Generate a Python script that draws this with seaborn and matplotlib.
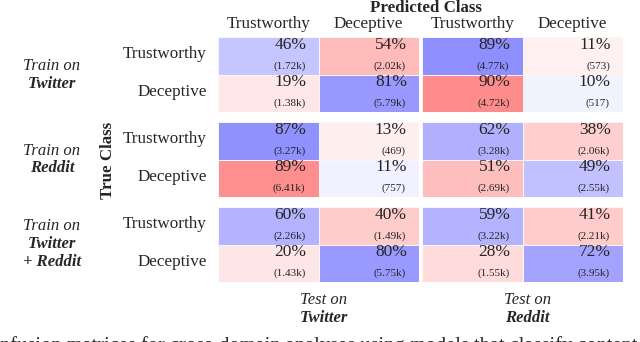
import numpy as np
import matplotlib
matplotlib.use('Agg')
import matplotlib.pyplot as plt
from matplotlib.colors import LinearSegmentedColormap
import seaborn as sns

# row labels (train sets) and column labels (test sets)
train_names = ['Twitter', 'Reddit', 'Twitter\n+ Reddit']
test_names = ['Twitter', 'Reddit']
class_names = ['Trustworthy', 'Deceptive']

# percentages [true][pred] per (train, test)
pct_tw_tw = [[46, 54], [19, 81]]
pct_tw_rd = [[89, 11], [90, 10]]
pct_rd_tw = [[87, 13], [89, 11]]
pct_rd_rd = [[62, 38], [51, 49]]
pct_bo_tw = [[60, 40], [20, 80]]
pct_bo_rd = [[59, 41], [28, 72]]

# raw counts [true][pred] per (train, test)
cnt_tw_tw = [[1720, 2020], [1380, 5790]]
cnt_tw_rd = [[4770, 573], [4720, 517]]
cnt_rd_tw = [[3270, 469], [6410, 757]]
cnt_rd_rd = [[3280, 2060], [2690, 2550]]
cnt_bo_tw = [[2260, 1490], [1430, 5750]]
cnt_bo_rd = [[3220, 2210], [1550, 3950]]

pcts = [[pct_tw_tw, pct_tw_rd], [pct_rd_tw, pct_rd_rd], [pct_bo_tw, pct_bo_rd]]
cnts = [[cnt_tw_tw, cnt_tw_rd], [cnt_rd_tw, cnt_rd_rd], [cnt_bo_tw, cnt_bo_rd]]

sns.set_style('white')
plt.rcParams['font.family'] = ['Liberation Serif', 'DejaVu Serif']

# red for wrong, blue for correct, lighter as the share goes down
cmap = LinearSegmentedColormap.from_list('rwb', [(1, 0.5, 0.5), (1, 1, 1), (0.5, 0.5, 1)])

W, H = 640, 342
fig = plt.figure(figsize=(W / 100, H / 100), dpi=100)


def fx(px):
    return px / W


def fy(py):
    return 1 - py / H


def fmt_count(n):
    return f'({n / 1000:.2f}k)' if n >= 1000 else f'({n})'


col_left = [218, 422]
row_top = [37, 122, 207]
cw, ch = 201, 75

for r in range(3):
    for c in range(2):
        p = np.array(pcts[r][c], dtype=float)
        sign = np.array([[1, -1], [-1, 1]])
        ax = fig.add_axes([fx(col_left[c]), fy(row_top[r] + ch), fx(cw), ch / H])
        sns.heatmap(p * sign, cmap=cmap, vmin=-100, vmax=100, cbar=False,
                    linewidths=0.6, linecolor='#f6f6fb', ax=ax)
        ax.set_xticks([])
        ax.set_yticks([])
        for i in range(2):
            for j in range(2):
                ax.text(j + 0.88, i + 0.21, f'{int(p[i, j])}%', ha='right', va='center',
                        fontsize=12.5)
                ax.text(j + 0.87, i + 0.77, fmt_count(cnts[r][c][i][j]), ha='right',
                        va='center', fontsize=8)
        # row class labels
        if c == 0:
            for i, name in enumerate(class_names):
                fig.text(fx(207), fy(row_top[r] + ch * (0.23 + 0.5 * i)), name,
                         ha='right', va='center', fontsize=12.3)

# column class labels
for c in range(2):
    for j, name in enumerate(class_names):
        fig.text(fx(col_left[c] + cw * (0.25 + 0.5 * j)), fy(24), name,
                 ha='center', va='center', fontsize=12.3)

fig.text(fx(426), fy(8), 'Predicted Class', ha='center', va='center',
         fontsize=12.2, fontweight='bold')
fig.text(fx(108), fy(160), 'True Class', ha='center', va='center', rotation=90,
         fontsize=12.2, fontweight='bold')

# train group labels
for r, name in enumerate(train_names):
    lines = name.split('\n')
    mid = row_top[r] + ch / 2
    top = mid - 9 * len(lines)
    fig.text(fx(52), fy(top), 'Train on', ha='center', va='center',
             fontsize=12, fontstyle='italic')
    for k, ln in enumerate(lines):
        fig.text(fx(52), fy(top + 18 * (k + 1)), ln, ha='center', va='center',
                 fontsize=12, fontstyle='italic', fontweight='bold')

# test labels
for c, name in enumerate(test_names):
    cx = col_left[c] + cw / 2 + 5
    fig.text(fx(cx), fy(300), 'Test on', ha='center', va='center',
             fontsize=12, fontstyle='italic')
    fig.text(fx(cx), fy(318), name, ha='center', va='center',
             fontsize=12, fontstyle='italic', fontweight='bold')

# caption, cut off by the image edge
fig.text(fx(-24), fy(336), 'Confusion matrices for cross-domain analyses using models that classify content',
         ha='left', va='top', fontsize=14.8)

fig.savefig('out.png', dpi=100)
